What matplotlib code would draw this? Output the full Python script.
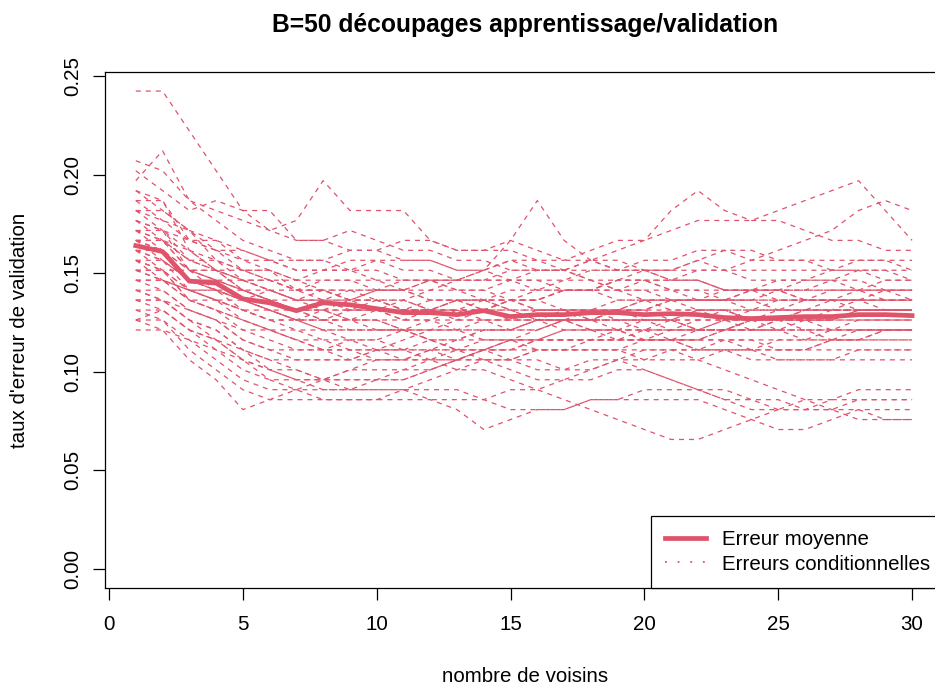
import numpy as np
import matplotlib
matplotlib.use('Agg')
from matplotlib import pyplot as plt
from matplotlib.lines import Line2D

RED = '#DF536B'

# number of neighbours k
k_values = list(range(1, 31))

# mean validation error (thick line)
mean_error = [0.164, 0.161, 0.146, 0.145, 0.137, 0.135, 0.131, 0.135, 0.134, 0.132,
              0.130, 0.130, 0.129, 0.131, 0.128, 0.129, 0.129, 0.130, 0.130, 0.129,
              0.1295, 0.129, 0.1275, 0.127, 0.1275, 0.128, 0.128, 0.129, 0.129, 0.1285]

# validation set size and misclassified counts for each of the B=50 splits
n_valid = 198
cond_error_counts = [
    [48, 48, 44, 40, 36, 36, 33, 33, 32, 32, 31, 31, 30, 30, 31, 31, 30, 29, 29, 30, 30, 31, 30, 29, 29, 29, 30, 31, 31, 30],
    [39, 42, 37, 35, 33, 32, 31, 31, 30, 30, 29, 29, 28, 28, 27, 27, 28, 28, 29, 29, 28, 27, 27, 26, 26, 27, 27, 28, 28, 27],
    [41, 40, 37, 36, 35, 34, 33, 33, 34, 33, 32, 32, 31, 31, 30, 30, 30, 31, 31, 30, 29, 29, 28, 28, 28, 29, 29, 30, 30, 29],
    [40, 38, 36, 37, 36, 34, 35, 39, 36, 36, 36, 33, 32, 32, 33, 32, 31, 31, 30, 30, 30, 31, 32, 32, 31, 31, 30, 30, 29, 29],
    [38, 37, 33, 32, 30, 30, 28, 28, 27, 27, 26, 26, 27, 27, 26, 25, 25, 24, 24, 25, 25, 26, 26, 25, 24, 24, 23, 23, 24, 24],
    [38, 36, 34, 31, 29, 28, 27, 27, 26, 26, 26, 27, 27, 27, 26, 26, 26, 25, 25, 25, 25, 24, 24, 25, 25, 25, 26, 26, 26, 26],
    [37, 37, 32, 30, 30, 29, 28, 29, 29, 28, 28, 29, 29, 30, 33, 37, 33, 31, 30, 30, 29, 29, 28, 28, 28, 27, 27, 27, 28, 28],
    [37, 35, 33, 33, 31, 30, 29, 28, 28, 27, 27, 26, 26, 25, 25, 25, 26, 26, 26, 27, 27, 26, 26, 25, 25, 25, 24, 24, 24, 24],
    [36, 35, 34, 32, 31, 31, 30, 30, 31, 31, 30, 30, 29, 29, 29, 30, 30, 31, 32, 33, 36, 38, 36, 35, 35, 34, 33, 33, 32, 32],
    [36, 34, 31, 30, 28, 27, 26, 26, 25, 25, 25, 26, 26, 27, 27, 26, 26, 25, 25, 24, 24, 24, 25, 25, 26, 26, 26, 27, 27, 27],
    [36, 36, 34, 33, 32, 31, 30, 30, 30, 31, 31, 31, 30, 30, 29, 29, 28, 28, 28, 29, 29, 30, 30, 31, 32, 33, 34, 36, 37, 36],
    [35, 34, 33, 32, 32, 31, 31, 31, 32, 32, 33, 33, 32, 32, 32, 31, 31, 32, 33, 33, 34, 35, 35, 35, 36, 37, 38, 39, 36, 33],
    [35, 33, 31, 30, 29, 29, 28, 28, 27, 27, 26, 26, 27, 27, 28, 28, 29, 29, 28, 28, 27, 27, 28, 28, 29, 29, 29, 28, 28, 28],
    [35, 34, 30, 29, 28, 27, 26, 25, 25, 24, 24, 23, 22, 22, 21, 20, 20, 21, 21, 20, 19, 18, 18, 17, 17, 16, 16, 15, 15, 15],
    [34, 33, 30, 30, 28, 27, 27, 27, 27, 26, 26, 26, 26, 26, 26, 26, 26, 26, 26, 27, 27, 27, 27, 27, 27, 27, 27, 27, 27, 27],
    [34, 33, 32, 30, 29, 28, 27, 28, 28, 28, 28, 27, 27, 26, 25, 25, 24, 24, 23, 23, 24, 24, 25, 26, 27, 27, 28, 28, 27, 27],
    [34, 32, 29, 28, 27, 26, 25, 25, 24, 24, 24, 25, 25, 26, 27, 27, 26, 26, 25, 25, 25, 24, 24, 25, 25, 26, 26, 26, 26, 26],
    [34, 34, 32, 31, 30, 29, 29, 30, 30, 29, 28, 28, 28, 28, 29, 29, 29, 30, 30, 31, 31, 32, 32, 31, 31, 31, 31, 31, 31, 31],
    [33, 33, 30, 30, 29, 28, 27, 27, 28, 28, 29, 29, 28, 27, 27, 26, 26, 26, 26, 26, 27, 27, 27, 27, 26, 26, 26, 26, 26, 26],
    [33, 32, 29, 28, 26, 25, 24, 23, 22, 22, 21, 21, 20, 20, 19, 18, 17, 16, 15, 14, 13, 13, 14, 15, 16, 16, 17, 17, 17, 17],
    [33, 31, 29, 29, 28, 27, 26, 26, 25, 25, 24, 23, 22, 21, 20, 19, 19, 20, 21, 22, 22, 21, 20, 19, 18, 17, 16, 16, 15, 15],
    [33, 33, 31, 31, 30, 30, 29, 29, 29, 29, 29, 29, 29, 29, 29, 28, 28, 28, 28, 28, 28, 28, 28, 28, 28, 28, 28, 28, 28, 28],
    [33, 32, 30, 29, 27, 26, 25, 26, 27, 28, 28, 27, 27, 26, 26, 25, 25, 26, 26, 25, 25, 26, 26, 25, 25, 24, 24, 25, 25, 25],
    [32, 32, 30, 28, 27, 28, 28, 27, 26, 26, 25, 25, 26, 26, 27, 27, 28, 28, 29, 29, 28, 28, 27, 27, 27, 27, 27, 27, 27, 27],
    [32, 31, 28, 27, 25, 24, 23, 22, 22, 21, 21, 22, 23, 24, 24, 24, 25, 25, 26, 26, 27, 27, 27, 28, 28, 27, 27, 26, 26, 26],
    [32, 30, 30, 29, 29, 29, 28, 28, 27, 27, 26, 26, 26, 26, 27, 27, 28, 28, 27, 27, 26, 26, 25, 25, 25, 25, 25, 26, 26, 26],
    [32, 31, 29, 29, 28, 28, 27, 26, 26, 26, 27, 28, 29, 30, 31, 30, 30, 29, 28, 27, 27, 27, 27, 28, 28, 28, 29, 29, 28, 28],
    [31, 30, 27, 26, 25, 24, 23, 23, 23, 22, 22, 22, 22, 22, 22, 22, 22, 22, 22, 22, 22, 22, 22, 22, 21, 21, 21, 21, 21, 21],
    [31, 31, 29, 28, 28, 27, 26, 26, 26, 27, 27, 26, 25, 25, 24, 24, 25, 25, 26, 26, 25, 24, 24, 24, 25, 26, 27, 27, 26, 26],
    [31, 30, 28, 27, 26, 26, 25, 25, 25, 25, 24, 24, 24, 23, 23, 23, 23, 23, 23, 23, 23, 23, 23, 23, 23, 23, 23, 23, 23, 23],
    [31, 29, 28, 28, 27, 26, 26, 25, 25, 26, 26, 26, 27, 27, 27, 28, 28, 28, 29, 29, 29, 29, 28, 28, 27, 27, 27, 27, 27, 27],
    [30, 30, 27, 27, 26, 25, 25, 24, 24, 24, 24, 24, 24, 24, 24, 25, 25, 25, 25, 25, 25, 25, 25, 25, 25, 25, 25, 25, 25, 25],
    [30, 29, 27, 26, 25, 24, 23, 22, 21, 21, 21, 22, 22, 23, 23, 22, 22, 23, 23, 24, 24, 25, 25, 24, 24, 23, 23, 24, 24, 24],
    [30, 29, 28, 28, 27, 27, 26, 27, 27, 28, 28, 29, 29, 29, 30, 30, 30, 30, 30, 30, 30, 30, 30, 30, 30, 30, 30, 30, 30, 30],
    [30, 30, 28, 27, 27, 26, 25, 24, 23, 23, 22, 22, 21, 21, 21, 21, 20, 20, 21, 21, 22, 22, 23, 23, 22, 22, 23, 23, 24, 24],
    [29, 29, 27, 26, 24, 23, 22, 22, 22, 22, 22, 21, 21, 21, 21, 22, 22, 22, 22, 23, 23, 24, 24, 25, 25, 25, 25, 26, 26, 26],
    [29, 28, 26, 25, 23, 22, 21, 21, 21, 22, 22, 23, 23, 24, 24, 25, 25, 25, 26, 26, 26, 26, 26, 26, 26, 26, 26, 26, 26, 26],
    [29, 29, 28, 27, 26, 25, 25, 25, 26, 26, 25, 25, 24, 24, 24, 25, 25, 25, 25, 25, 24, 24, 24, 24, 24, 24, 24, 24, 24, 24],
    [28, 27, 25, 24, 22, 21, 20, 19, 19, 19, 19, 20, 21, 22, 23, 24, 25, 25, 24, 23, 23, 22, 22, 21, 21, 21, 21, 22, 22, 22],
    [28, 27, 25, 24, 22, 20, 19, 18, 18, 18, 18, 19, 20, 21, 21, 22, 22, 22, 22, 21, 21, 21, 22, 22, 23, 23, 24, 24, 24, 24],
    [28, 28, 26, 25, 23, 22, 22, 22, 23, 23, 24, 24, 24, 25, 25, 26, 26, 26, 27, 27, 27, 27, 27, 27, 28, 28, 28, 28, 29, 29],
    [27, 27, 25, 23, 21, 19, 18, 17, 17, 17, 18, 18, 18, 17, 16, 16, 16, 17, 17, 18, 18, 18, 17, 17, 16, 16, 16, 17, 17, 17],
    [27, 26, 24, 23, 21, 20, 19, 19, 19, 19, 20, 20, 21, 22, 22, 23, 23, 23, 24, 24, 25, 25, 26, 26, 26, 26, 26, 26, 26, 26],
    [27, 27, 26, 25, 24, 24, 24, 24, 24, 24, 24, 23, 23, 23, 23, 23, 24, 24, 24, 24, 24, 24, 24, 24, 24, 24, 24, 24, 24, 24],
    [26, 25, 23, 21, 19, 18, 18, 18, 18, 19, 19, 20, 21, 22, 23, 23, 24, 24, 24, 23, 23, 23, 24, 24, 25, 25, 25, 26, 26, 26],
    [26, 26, 24, 23, 22, 21, 21, 21, 21, 22, 23, 24, 25, 25, 25, 25, 25, 24, 24, 24, 23, 23, 24, 24, 24, 25, 25, 25, 25, 25],
    [25, 25, 22, 20, 18, 17, 17, 17, 17, 17, 17, 17, 16, 14, 15, 16, 16, 17, 17, 17, 17, 17, 16, 15, 14, 14, 15, 16, 16, 16],
    [25, 24, 21, 19, 16, 17, 18, 19, 20, 21, 21, 21, 22, 22, 23, 23, 23, 23, 23, 23, 23, 23, 23, 22, 22, 22, 22, 22, 22, 22],
    [25, 26, 24, 22, 21, 20, 20, 19, 18, 18, 18, 17, 17, 17, 18, 18, 19, 19, 20, 20, 19, 18, 17, 16, 16, 17, 17, 18, 18, 18],
    [24, 24, 23, 22, 20, 19, 19, 19, 20, 20, 20, 21, 21, 22, 22, 23, 23, 23, 23, 23, 23, 22, 22, 22, 22, 22, 23, 23, 23, 23],
]

x_ticks = [0, 5, 10, 15, 20, 25, 30]
y_ticks = [0.00, 0.05, 0.10, 0.15, 0.20, 0.25]


def main():
    plt.rcParams['font.family'] = ['Liberation Sans', 'DejaVu Sans']
    W, H = 935, 685
    fig = plt.figure(figsize=(W / 100, H / 100), dpi=100)
    # plot box in pixels: left 105, right 945 (past the edge), top 72, bottom 588
    ax = fig.add_axes([105 / W, (H - 588) / H, 840 / W, 516 / H])

    rates = np.array(cond_error_counts) / n_valid
    for row in rates:
        ax.plot(k_values, row, color=RED, lw=0.9, dashes=(4, 4))
    ax.plot(k_values, mean_error, color=RED, lw=3.4)

    ax.set_xlim(-0.15, 31.23)
    ax.set_ylim(-0.0097, 0.2521)
    ax.set_xticks(x_ticks)
    ax.set_xticklabels([str(t) for t in x_ticks])
    ax.set_yticks(y_ticks)
    ax.set_yticklabels(['%.2f' % t for t in y_ticks])
    ax.tick_params(direction='out', length=8.6, width=0.9, labelsize=14.8, colors='black')
    ax.tick_params(axis='x', pad=11)
    ax.tick_params(axis='y', pad=8, labelrotation=90)
    plt.setp(ax.get_yticklabels(), va='center')
    for s in ax.spines.values():
        s.set_linewidth(0.9)

    handles = [Line2D([], [], color=RED, lw=3.4),
               Line2D([], [], color=RED, lw=1.3, linestyle=(0, (1, 6)))]
    leg = ax.legend(handles, ['Erreur moyenne', 'Erreurs conditionnelles'],
                    loc='lower right', bbox_to_anchor=(1, 0), borderaxespad=0,
                    fancybox=False, edgecolor='black', framealpha=1,
                    fontsize=14.8, handlelength=2.0, handletextpad=0.8,
                    borderpad=0.7, labelspacing=0.25)
    leg.get_frame().set_linewidth(0.9)

    fig.text(525 / W, 1 - 32 / H, 'B=50 découpages apprentissage/validation',
             ha='center', va='baseline', fontsize=17.7, fontweight='bold')
    fig.text(525 / W, 1 - 676 / H, 'nombre de voisins', ha='center', va='center',
             fontsize=14.8)
    fig.text(20 / W, 1 - 330 / H, "taux d'erreur de validation", ha='center',
             va='center', rotation=90, fontsize=14.8)

    fig.savefig('out.png', dpi=100)


if __name__ == '__main__':
    main()
